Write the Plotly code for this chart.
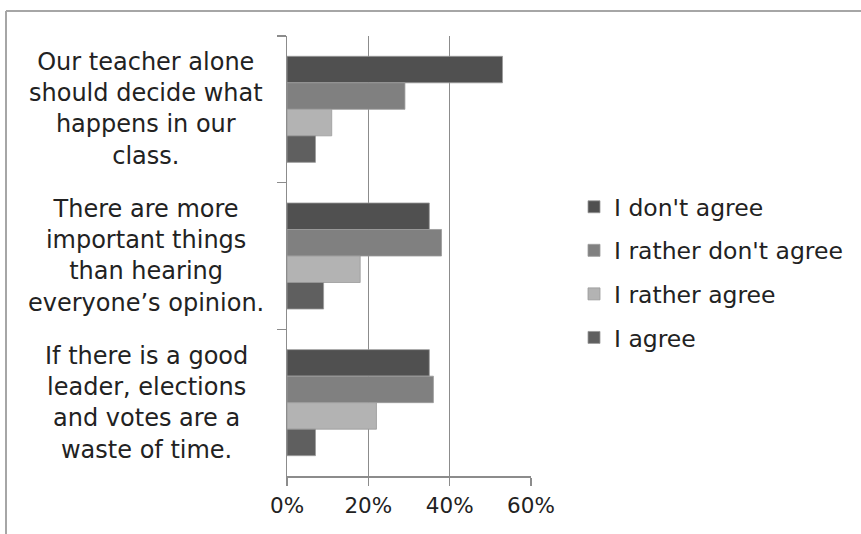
import plotly.graph_objects as go

categories = [
    "Our teacher alone<br>should decide what<br>happens in our<br>class.",
    "There are more<br>important things<br>than hearing<br>everyone’s opinion.",
    "If there is a good<br>leader, elections<br>and votes are a<br>waste of time.",
]
cat_keys = ["c1", "c2", "c3"]
series_names = ["I don't agree", "I rather don't agree", "I rather agree", "I agree"]
series_values = [
    [53, 35, 35],
    [29, 38, 36],
    [11, 18, 22],
    [7, 9, 7],
]
series_colors = ["#505050", "#808080", "#b3b3b3", "#5f5f5f"]
x_ticks = [0, 20, 40, 60]
x_ticklabels = ["0%", "20%", "40%", "60%"]

FONT = "DejaVu Sans"
TXT = "#222222"
GRID = "#8c8c8c"

fig = go.Figure()
for name, vals, col in zip(series_names, series_values, series_colors):
    fig.add_trace(go.Bar(
        y=cat_keys, x=vals, name=name, orientation="h",
        marker=dict(color=col, line=dict(color="#9a9a9a", width=0.8)),
        legendgroup=name,
    ))

L, R, T, B = 287, 330, 36, 58
W, H = 861, 534
pw, ph = W - L - R, H - T - B

for key, label in zip(cat_keys, categories):
    fig.add_annotation(
        text=label, xref="paper", yref="y", x=(146 - L) / pw, y=key,
        xanchor="center", yanchor="middle", align="center", showarrow=False,
        font=dict(family=FONT, size=24, color=TXT),
    )

# outer chart border (top and left)
bx0 = (6 - L) / pw
by_top = (H - B - 11) / ph
by_bot = (H - B - H) / ph
bx_right = (W - L) / pw
fig.add_shape(type="line", xref="paper", yref="paper", x0=bx0, x1=bx_right, y0=by_top, y1=by_top,
              line=dict(color="#a6a6a6", width=2))
fig.add_shape(type="line", xref="paper", yref="paper", x0=bx0, x1=bx0, y0=by_top, y1=by_bot,
              line=dict(color="#a6a6a6", width=2))

fig.update_layout(
    width=W, height=H,
    margin=dict(l=L, r=R, t=T, b=B, pad=0),
    paper_bgcolor="white", plot_bgcolor="white",
    barmode="group", bargap=0.277, bargroupgap=0,
    font=dict(family=FONT, color=TXT),
    showlegend=True,
    legend=dict(
        x=(574 - L) / pw, y=(H - B - 185) / ph, xanchor="left", yanchor="top",
        font=dict(family=FONT, size=23.5, color=TXT),
        traceorder="grouped", tracegroupgap=10,
        itemwidth=30, bgcolor="rgba(0,0,0,0)",
    ),
    xaxis=dict(
        range=[0, 60], tickvals=x_ticks, ticktext=x_ticklabels,
        showgrid=True, gridcolor=GRID, gridwidth=1.5,
        zeroline=False, showline=True, linecolor=GRID, linewidth=1.5,
        ticks="outside", ticklen=8, tickcolor=GRID, tickwidth=1.5,
        tickfont=dict(family=FONT, size=21.5, color=TXT),
        ticklabelstandoff=2, fixedrange=True,
    ),
    yaxis=dict(
        type="category", categoryorder="array", categoryarray=cat_keys,
        autorange="reversed", showticklabels=False,
        showline=True, linecolor=GRID, linewidth=1.5,
        ticks="outside", ticklen=9, tickcolor=GRID, tickwidth=1.5,
        tickson="boundaries", showgrid=False, zeroline=False, fixedrange=True,
    ),
)

fig.write_html(
    "out.html",
    config={"displayModeBar": False, "staticPlot": True},
    post_script="document.body.style.margin='0';document.body.style.overflow='hidden';",
)
